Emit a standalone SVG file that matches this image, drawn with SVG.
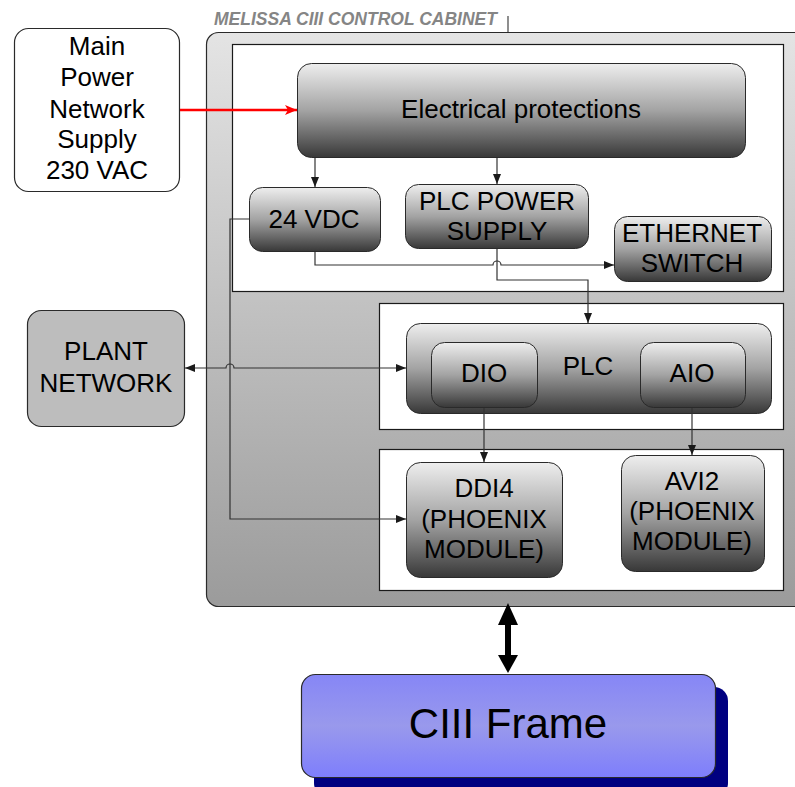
<svg xmlns="http://www.w3.org/2000/svg" width="795" height="787" viewBox="0 0 795 787">
<defs>
<linearGradient id="gNode" x1="0" y1="0" x2="0" y2="1">
<stop offset="0" stop-color="#eeeeee"/>
<stop offset="0.5" stop-color="#a3a3a3"/>
<stop offset="1" stop-color="#383838"/>
</linearGradient>
<linearGradient id="gCab" x1="0" y1="0" x2="0" y2="1">
<stop offset="0" stop-color="#e4e4e4"/>
<stop offset="1" stop-color="#9b9b9b"/>
</linearGradient>
<linearGradient id="gFrame" x1="0" y1="0" x2="0" y2="1">
<stop offset="0" stop-color="#8686f6"/>
<stop offset="0.5" stop-color="#9999ec"/>
<stop offset="1" stop-color="#7e7efc"/>
</linearGradient>
<marker id="ah" viewBox="0 0 10 8" refX="10" refY="4" markerWidth="10" markerHeight="8" orient="auto" markerUnits="userSpaceOnUse">
<path d="M0,0 L10,4 L0,8 Z" fill="#1a1a1a"/>
</marker>
<marker id="ahs" viewBox="0 0 10 8" refX="0" refY="4" markerWidth="10" markerHeight="8" orient="auto" markerUnits="userSpaceOnUse">
<path d="M10,0 L0,4 L10,8 Z" fill="#1a1a1a"/>
</marker>
<marker id="ahr" viewBox="0 0 12 10" refX="12" refY="5" markerWidth="12" markerHeight="10" orient="auto" markerUnits="userSpaceOnUse">
<path d="M0,0 L12,5 L0,10 L3,5 Z" fill="#ff0000"/>
</marker>
</defs>
<style>
text{font-family:"Liberation Sans",Arial,sans-serif;fill:#000;text-anchor:middle}
.t{font-size:26px}
.node{fill:url(#gNode);stroke:#2a2a2a;stroke-width:1}
.panel{fill:#ffffff;stroke:#1a1a1a;stroke-width:1.2}
.c{fill:none;stroke:#333;stroke-width:1.2}
</style>

<g id="cabinet">
<rect x="206.5" y="32.5" width="640" height="574" rx="12" fill="url(#gCab)" stroke="#2a2a2a" stroke-width="1.2"/>
<text x="214" y="25" style="font-size:17.5px;font-weight:bold;font-style:italic;fill:#858585;text-anchor:start">MELISSA CIII CONTROL CABINET</text>
<line x1="508" y1="16" x2="508" y2="32" stroke="#444" stroke-width="1.2"/>
</g>
<g id="panel1"><rect class="panel" x="232.5" y="44.5" width="551" height="247"/></g>
<g id="panel2"><rect class="panel" x="379.5" y="303.5" width="404" height="126"/></g>
<g id="panel3"><rect class="panel" x="379.5" y="449.5" width="404" height="141"/></g>

<g id="main-power">
<rect x="14.5" y="28.5" width="165" height="163" rx="14" fill="#fff" stroke="#2a2a2a" stroke-width="1.2"/>
<text class="t" x="97" y="55">Main</text>
<text class="t" x="97" y="86">Power</text>
<text class="t" x="97" y="118">Network</text>
<text class="t" x="97" y="148">Supply</text>
<text class="t" x="97" y="179">230 VAC</text>
</g>

<g id="plant-network">
<rect x="27.5" y="310.5" width="157" height="116" rx="14" fill="#bdbdbd" stroke="#2a2a2a" stroke-width="1.2"/>
<text class="t" x="106" y="360">PLANT</text>
<text class="t" x="106" y="392">NETWORK</text>
</g>

<g id="electrical-protections">
<rect class="node" x="297.5" y="63.5" width="448" height="94" rx="14"/>
<text class="t" x="521" y="118">Electrical protections</text>
</g>

<g id="vdc24">
<rect class="node" x="249.5" y="187.5" width="131" height="64" rx="13"/>
<text class="t" x="314" y="228">24 VDC</text>
</g>

<g id="plc-power-supply">
<rect class="node" x="405.5" y="184.5" width="183" height="64" rx="13"/>
<text class="t" x="497" y="210">PLC POWER</text>
<text class="t" x="497" y="240">SUPPLY</text>
</g>

<g id="ethernet-switch">
<rect class="node" x="614.5" y="216.5" width="157" height="65" rx="13"/>
<text class="t" x="692" y="242">ETHERNET</text>
<text class="t" x="692" y="272">SWITCH</text>
</g>

<g id="plc">
<rect class="node" x="406.5" y="323.5" width="365" height="90" rx="14"/>
<text class="t" x="588" y="375">PLC</text>
</g>
<g id="dio">
<rect class="node" x="431.5" y="342.5" width="106" height="65" rx="13"/>
<text class="t" x="484" y="382">DIO</text>
</g>
<g id="aio">
<rect class="node" x="640.5" y="342.5" width="105" height="65" rx="13"/>
<text class="t" x="692" y="382">AIO</text>
</g>

<g id="ddi4">
<rect class="node" x="406.5" y="462.5" width="156" height="115" rx="14"/>
<text class="t" x="484" y="497">DDI4</text>
<text class="t" x="484" y="528">(PHOENIX</text>
<text class="t" x="484" y="558">MODULE)</text>
</g>

<g id="avi2">
<rect class="node" x="621.5" y="455.5" width="143" height="116" rx="14"/>
<text class="t" x="692" y="490">AVI2</text>
<text class="t" x="692" y="520">(PHOENIX</text>
<text class="t" x="692" y="550">MODULE)</text>
</g>

<g id="ciii-frame">
<rect x="314" y="687" width="414" height="110" rx="14" fill="#000080"/>
<rect x="301.5" y="674.5" width="414" height="103" rx="14" fill="url(#gFrame)" stroke="#2a2a2a" stroke-width="1.2"/>
<text x="508" y="738" style="font-size:42px">CIII Frame</text>
</g>

<g id="connectors">
<line x1="180" y1="110" x2="297" y2="110" stroke="#ff0000" stroke-width="2.5" marker-end="url(#ahr)"/>
<line class="c" x1="315" y1="158" x2="315" y2="187" marker-end="url(#ah)"/>
<line class="c" x1="497" y1="158" x2="497" y2="184" marker-end="url(#ah)"/>
<path class="c" d="M315,252 L315,265 L493,265 A4,4 0 0 1 501,265 L614,265" marker-end="url(#ah)"/>
<path class="c" d="M497,249 L497,280 L588,280 L588,323" marker-end="url(#ah)"/>
<path class="c" d="M249,219 L230,219 L230,519 L406,519" marker-end="url(#ah)"/>
<path class="c" d="M185,368 L226,368 A4,4 0 0 1 234,368 L406,368" marker-start="url(#ahs)" marker-end="url(#ah)"/>
<line class="c" x1="484" y1="408" x2="484" y2="462" marker-end="url(#ah)"/>
<line class="c" x1="692" y1="408" x2="692" y2="455" marker-end="url(#ah)"/>
<g id="frame-link">
<rect x="505" y="620" width="6" height="38" fill="#000"/>
<path d="M508,603 L518,625 L498,625 Z" fill="#000"/>
<path d="M508,673 L518,655 L498,655 Z" fill="#000"/>
</g>
</g>
</svg>
